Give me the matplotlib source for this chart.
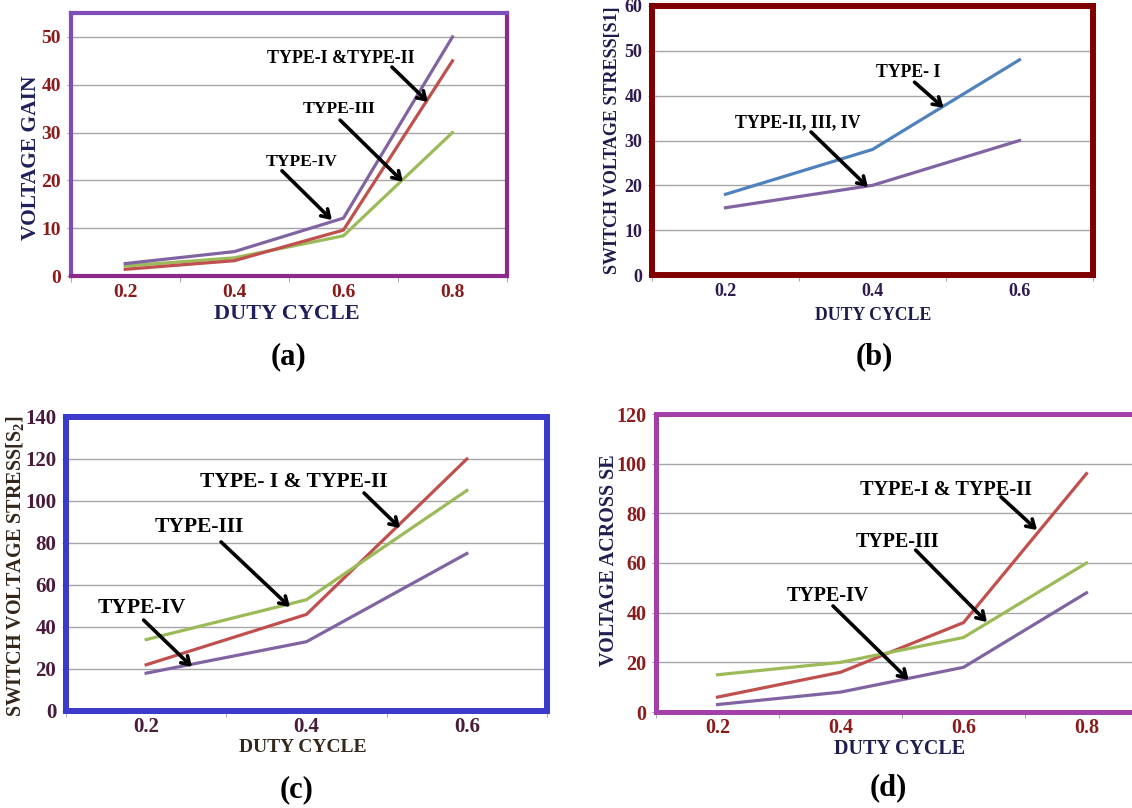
import numpy as np
import matplotlib
matplotlib.use("Agg")
import matplotlib.pyplot as plt

plt.rcParams['font.family'] = ['Liberation Serif', 'DejaVu Serif']
plt.rcParams['font.weight'] = 'bold'
plt.rcParams['mathtext.fontset'] = 'custom'
plt.rcParams['mathtext.rm'] = 'Liberation Serif:bold'
plt.rcParams['mathtext.it'] = 'Liberation Serif:bold'

# Data
duty4 = ['0.2', '0.4', '0.6', '0.8']
duty3 = ['0.2', '0.4', '0.6']

# (a) voltage gain
gain_purple = [2.6, 5.1, 12.1, 50]
gain_red = [1.4, 3.2, 9.6, 45]
gain_green = [2.1, 3.8, 8.4, 30]

# (b) switch voltage stress S1
s1_type1 = [18, 28, 48]
s1_type234 = [15, 20, 30]

# (c) switch voltage stress S2
s2_red = [22, 46, 120]
s2_green = [34, 53, 105]
s2_purple = [18, 33, 75]

# (d) voltage across SE
se_red = [6, 16, 36, 96]
se_green = [15, 20, 30, 60]
se_purple = [3, 8, 18, 48]

PURPLE = '#8064A2'
RED = '#C0504D'
GREEN = '#9BBB59'
BLUE = '#4F81BD'

W, H = 1132, 808
fig = plt.figure(figsize=(W / 100, H / 100), dpi=100)


def fx(px):
    return px / W


def fy(py):
    return 1 - py / H


def make_ax(l, t, r, b, ncat, ymax, ystep, tick_color, tick_size, spine_color, spine_w):
    ax = fig.add_axes([fx(l), fy(b), (r - l) / W, (b - t) / H])
    ax.set_xlim(0.5, ncat + 0.5)
    ax.set_ylim(0, ymax)
    ax.set_yticks(np.arange(0, ymax + 0.1, ystep))
    ax.yaxis.grid(True, color='#A6A6A6', lw=1.0)
    ax.set_axisbelow(True)
    for s in ax.spines.values():
        s.set_color(spine_color)
        s.set_linewidth(spine_w)
    ax.tick_params(axis='y', length=3, color='#999999', pad=4,
                   labelsize=tick_size, labelcolor=tick_color)
    ax.tick_params(axis='x', which='major', length=0, pad=6,
                   labelsize=tick_size, labelcolor=tick_color)
    ax.tick_params(axis='x', which='minor', length=4, color='#999999')
    ax.set_xticks(np.arange(0.5, ncat + 1), minor=True)
    return ax


def arrow(ax, start, tip):
    ax.annotate('', xy=tip, xytext=start,
                arrowprops=dict(arrowstyle='->,head_length=0.55,head_width=0.35',
                                lw=2.6, color='black', shrinkA=0, shrinkB=0))


def note(ax, x, y, s, size):
    ax.text(x, y, s, ha='center', va='center', fontsize=size,
            fontweight='bold', color='black')


# ---------------- (a) ----------------
ax = make_ax(70.7, 13, 507, 276, 4, 55, 10, '#8B1A1A', 14, '#7D4DB8', 3.0)
ax.spines['bottom'].set_color('#8B2A8B')
ax.spines['right'].set_color('#8B2A8B')
x4 = np.arange(1, 5)
ax.set_xticks(x4, duty4)
ax.plot(x4, gain_green, color=GREEN, lw=2.3)
ax.plot(x4, gain_red, color=RED, lw=2.3)
ax.plot(x4, gain_purple, color=PURPLE, lw=2.3)
note(ax, 2.98, 45.4, 'TYPE-I &TYPE-II', 12.9)
arrow(ax, (3.445, 43.7), (3.775, 36.4))
note(ax, 2.96, 34.9, 'TYPE-III', 12.6)
arrow(ax, (2.97, 32.6), (3.546, 19.7))
note(ax, 2.62, 23.8, 'TYPE-IV', 12.6)
arrow(ax, (2.437, 22.0), (2.895, 11.7))
fig.text(fx(31), fy(158), 'VOLTAGE GAIN', rotation=90, ha='center', va='center',
         fontsize=15.5, color='#1F1F5C')
fig.text(fx(287), fy(314), 'DUTY CYCLE', ha='center', va='center',
         fontsize=16, color='#1F1F5C')
fig.text(fx(289), fy(357), '(a)', ha='center', va='center', fontsize=22, color='black')

# ---------------- (b) ----------------
ax = make_ax(652, 6, 1093, 275, 3, 60, 10, '#2E1A4F', 13, '#800000', 4.3)
x3 = np.arange(1, 4)
ax.set_xticks(x3, duty3)
ax.plot(x3, s1_type1, color=BLUE, lw=2.3)
ax.plot(x3, s1_type234, color=PURPLE, lw=2.3)
note(ax, 2.242, 45.1, 'TYPE- I', 12.8)
arrow(ax, (2.286, 43.0), (2.484, 37.3))
note(ax, 1.493, 33.9, 'TYPE-II, III, IV', 12.8)
arrow(ax, (1.582, 31.9), (1.969, 19.6))
fig.text(fx(613), fy(140), 'SWITCH VOLTAGE STRESS[S1]', rotation=90, ha='center',
         va='center', fontsize=13, color='#1C1C4C')
fig.text(fx(873), fy(316), 'DUTY CYCLE', ha='center', va='center',
         fontsize=12.8, color='#1C1C4C')
fig.text(fx(874), fy(357), '(b)', ha='center', va='center', fontsize=22, color='black')

# ---------------- (c) ----------------
ax = make_ax(66, 417, 547, 711, 3, 140, 20, '#4A1A3A', 15, '#3A3ACC', 4.3)
ax.set_xticks(x3, duty3)
ax.tick_params(axis='x', which='major', pad=4)
ax.plot(x3, s2_red, color=RED, lw=2.3)
ax.plot(x3, s2_green, color=GREEN, lw=2.3)
ax.plot(x3, s2_purple, color=PURPLE, lw=2.3)
note(ax, 1.922, 109, 'TYPE- I & TYPE-II', 15.5)
arrow(ax, (2.359, 103.8), (2.584, 87.1))
note(ax, 1.33, 87.6, 'TYPE-III', 15.5)
arrow(ax, (1.467, 80.5), (1.897, 49.5))
note(ax, 0.974, 49.0, 'TYPE-IV', 15.5)
arrow(ax, (0.984, 43.3), (1.286, 21.0))
fig.text(fx(15), fy(566), r'SWITCH VOLTAGE STRESS[$\mathrm{S_2}$]', rotation=90,
         ha='center', va='center', fontsize=14.5, color='#33261A')
fig.text(fx(303), fy(748), 'DUTY CYCLE', ha='center', va='center',
         fontsize=14, color='#33261A')
fig.text(fx(297), fy(790), '(c)', ha='center', va='center', fontsize=22, color='black')

# ---------------- (d) ----------------
ax = make_ax(656, 414, 1148, 712, 4, 120, 20, '#8B1A1A', 14.5, '#A23FA8', 3.6)
ax.set_xticks(x4, duty4)
ax.tick_params(axis='x', which='major', pad=4)
ax.plot(x4, se_red, color=RED, lw=2.3)
ax.plot(x4, se_green, color=GREEN, lw=2.3)
ax.plot(x4, se_purple, color=PURPLE, lw=2.3)
note(ax, 2.858, 89.4, 'TYPE-I & TYPE-II', 14.6)
arrow(ax, (3.305, 86.6), (3.598, 73.3))
note(ax, 2.467, 68.5, 'TYPE-III', 14.4)
arrow(ax, (2.611, 65.2), (3.191, 36.2))
note(ax, 1.898, 46.7, 'TYPE-IV', 14.4)
arrow(ax, (1.939, 42.7), (2.554, 12.9))
fig.text(fx(609), fy(560), 'VOLTAGE ACROSS SE', rotation=90, ha='center',
         va='center', fontsize=14.5, color='#1F1F4F')
fig.text(fx(900), fy(749), 'DUTY CYCLE', ha='center', va='center',
         fontsize=14.4, color='#1F1F4F')
fig.text(fx(888), fy(788), '(d)', ha='center', va='center', fontsize=22, color='black')

fig.savefig('out.png', dpi=100)
